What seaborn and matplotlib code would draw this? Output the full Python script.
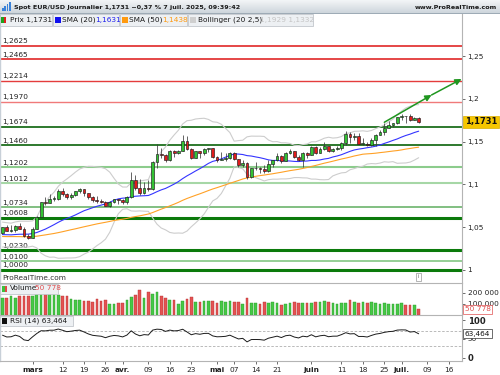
import numpy as np
import pandas as pd
import matplotlib
matplotlib.use("Agg")
import matplotlib.pyplot as plt
import matplotlib.transforms as mtransforms
from matplotlib.patches import Rectangle
import seaborn as sns

sns.set_style("white")
plt.rcParams['font.family'] = ['DejaVu Sans']

# ---------------- data ----------------
# closes before the visible window (for indicator warm-up)
prior_closes = [1.0497, 1.0510, 1.0512, 1.0587, 1.0567, 1.0554, 1.0527, 1.0502, 1.0467, 1.0502,
                1.0512, 1.0490, 1.0352, 1.0362, 1.0430, 1.0407, 1.0404, 1.0421, 1.0428, 1.0411,
                1.0355, 1.0265, 1.0308, 1.0390, 1.0344, 1.0318, 1.0300, 1.0244, 1.0244, 1.0309,
                1.0289, 1.0300, 1.0272, 1.0418, 1.0430, 1.0408, 1.0415, 1.0495, 1.0493, 1.0431,
                1.0420, 1.0391, 1.0362, 1.0343, 1.0378, 1.0402, 1.0380, 1.0329, 1.0306, 1.0361,
                1.0385, 1.0464, 1.0491, 1.0483, 1.0445, 1.0424]

start_date = '2025-02-20'
opens = [1.0427, 1.0500, 1.0459, 1.0465, 1.0513, 1.0485, 1.0398,
         1.0375, 1.0484, 1.0625, 1.0791, 1.0786, 1.0833, 1.0834, 1.0919, 1.0888, 1.0852,
         1.0882, 1.0923, 1.0944, 1.0902, 1.0853, 1.0816, 1.0802, 1.0791, 1.0753, 1.0799, 1.0827,
         1.0817, 1.0792, 1.0851, 1.1050, 1.0961, 1.0906, 1.0961, 1.0950, 1.1265, 1.1357,
         1.1347, 1.1284, 1.1396, 1.1369, 1.1396, 1.1513, 1.1421, 1.1312, 1.1389, 1.1363,
         1.1420, 1.1424, 1.1327, 1.1291, 1.1298, 1.1314, 1.1369, 1.1300, 1.1227, 1.1252,
         1.1089, 1.1188, 1.1191, 1.1186, 1.1161, 1.1240, 1.1283, 1.1330, 1.1280, 1.1363,
         1.1389, 1.1326, 1.1292, 1.1369, 1.1347, 1.1444, 1.1370, 1.1420, 1.1445, 1.1396,
         1.1420, 1.1422, 1.1487, 1.1585, 1.1550, 1.1562, 1.1478, 1.1479, 1.1462, 1.1523,
         1.1580, 1.1610, 1.1663, 1.1700, 1.1718, 1.1787, 1.1801, 1.1799, 1.1756, 1.1778]
highs = [1.0505, 1.0528, 1.0529, 1.0528, 1.0545, 1.0500, 1.0422,
         1.0499, 1.0630, 1.0796, 1.0854, 1.0889, 1.0870, 1.0947, 1.0956, 1.0901, 1.0906,
         1.0925, 1.0955, 1.0947, 1.0905, 1.0863, 1.0862, 1.0830, 1.0802, 1.0810, 1.0830, 1.0835,
         1.0834, 1.0862, 1.1145, 1.1107, 1.1065, 1.1030, 1.1050, 1.1275, 1.1474, 1.1425,
         1.1356, 1.1407, 1.1402, 1.1398, 1.1574, 1.1572, 1.1425, 1.1390, 1.1390, 1.1426,
         1.1425, 1.1424, 1.1339, 1.1380, 1.1363, 1.1380, 1.1381, 1.1300, 1.1288, 1.1265,
         1.1193, 1.1266, 1.1210, 1.1230, 1.1290, 1.1290, 1.1363, 1.1345, 1.1375, 1.1418,
         1.1390, 1.1345, 1.1383, 1.1385, 1.1455, 1.1455, 1.1435, 1.1495, 1.1455, 1.1432,
         1.1450, 1.1498, 1.1631, 1.1613, 1.1600, 1.1597, 1.1540, 1.1500, 1.1545, 1.1590,
         1.1641, 1.1720, 1.1744, 1.1720, 1.1790, 1.1830, 1.1805, 1.1830, 1.1790, 1.1785]
lows = [1.0422, 1.0455, 1.0450, 1.0448, 1.0474, 1.0384, 1.0359,
        1.0375, 1.0477, 1.0620, 1.0760, 1.0778, 1.0809, 1.0820, 1.0867, 1.0830, 1.0832,
        1.0868, 1.0899, 1.0868, 1.0833, 1.0797, 1.0787, 1.0785, 1.0745, 1.0732, 1.0780, 1.0777,
        1.0767, 1.0774, 1.0847, 1.0930, 1.0880, 1.0890, 1.0920, 1.0935, 1.1194, 1.1315,
        1.1264, 1.1272, 1.1320, 1.1355, 1.1386, 1.1400, 1.1298, 1.1307, 1.1315, 1.1346,
        1.1379, 1.1309, 1.1265, 1.1290, 1.1275, 1.1300, 1.1290, 1.1200, 1.1210, 1.1065,
        1.1073, 1.1173, 1.1130, 1.1130, 1.1150, 1.1200, 1.1270, 1.1250, 1.1275, 1.1352,
        1.1305, 1.1280, 1.1210, 1.1310, 1.1345, 1.1357, 1.1365, 1.1400, 1.1375, 1.1383,
        1.1400, 1.1400, 1.1467, 1.1490, 1.1525, 1.1470, 1.1462, 1.1446, 1.1456, 1.1453,
        1.1576, 1.1580, 1.1657, 1.1675, 1.1705, 1.1760, 1.1720, 1.1745, 1.1750, 1.1720]
closes = [1.0500, 1.0459, 1.0465, 1.0513, 1.0485, 1.0398, 1.0375,
          1.0484, 1.0625, 1.0791, 1.0786, 1.0833, 1.0834, 1.0919, 1.0888, 1.0852, 1.0882,
          1.0923, 1.0944, 1.0902, 1.0853, 1.0816, 1.0802, 1.0791, 1.0753, 1.0799, 1.0827, 1.0817,
          1.0792, 1.0851, 1.1050, 1.0961, 1.0906, 1.0961, 1.0950, 1.1265, 1.1357, 1.1347,
          1.1284, 1.1396, 1.1369, 1.1396, 1.1513, 1.1421, 1.1312, 1.1389, 1.1363, 1.1420,
          1.1424, 1.1327, 1.1291, 1.1298, 1.1314, 1.1369, 1.1300, 1.1227, 1.1252, 1.1089,
          1.1188, 1.1191, 1.1186, 1.1161, 1.1240, 1.1283, 1.1330, 1.1280, 1.1363, 1.1389,
          1.1326, 1.1292, 1.1369, 1.1347, 1.1444, 1.1370, 1.1420, 1.1445, 1.1396, 1.1420,
          1.1422, 1.1487, 1.1585, 1.1550, 1.1562, 1.1478, 1.1479, 1.1462, 1.1523, 1.1580,
          1.1610, 1.1663, 1.1700, 1.1718, 1.1787, 1.1801, 1.1799, 1.1756, 1.1778, 1.1731]
volumes = [154000, 154000, 173000, 154000, 167000, 167000, 167000, 173000, 187000, 187000,
           187000, 187000, 187000, 177000, 170000, 167000, 140000, 137000, 137000, 127000,
           127000, 120000, 144000, 127000, 137000, 100000, 94000, 110000, 107000, 134000,
           160000, 177000, 220000, 154000, 204000, 187000, 204000, 167000, 154000, 137000,
           137000, 100000, 127000, 144000, 160000, 120000, 120000, 127000, 127000, 127000,
           110000, 127000, 120000, 127000, 120000, 120000, 100000, 147000,
           107000, 110000, 100000, 120000, 107000, 117000, 107000, 87000, 100000, 107000,
           117000, 107000, 104000, 104000, 107000, 117000, 120000, 124000, 120000, 104000,
           94000, 104000, 104000, 130000, 120000, 104000, 114000, 107000, 120000, 104000,
           100000, 104000, 94000, 97000, 97000, 104000, 90000, 90000, 87000, 50778]

levels = [1.2625, 1.2465, 1.2214, 1.1970, 1.1674, 1.1460, 1.1202, 1.1012, 1.0734, 1.0608,
          1.0230, 1.0100, 1.0000]
level_labels = ['1,2625', '1,2465', '1,2214', '1,1970', '1,1674', '1,1460', '1,1202', '1,1012',
                '1,0734', '1,0608', '1,0230', '1,0100', '1,0000']
level_colors = ['#e02828', '#e02828', '#e43c3c', '#f07a7a', '#1c6e1c', '#1c6e1c', '#8ccc8c',
                '#a6d7a6', '#6cb46c', '#0b7a0b', '#0b7a0b', '#8ccc8c', '#0b7a0b']
level_widths = [1.2, 1.2, 1.0, 1.0, 1.3, 1.3, 1.5, 1.5, 1.2, 2.2, 2.2, 1.3, 2.2]

price_ticks = [1.0, 1.05, 1.1, 1.15, 1.2, 1.25]
price_tick_labels = ['1', '1,05', '1,1', '1,15', '1,2', '1,25']

tick_dates = ['2025-03-03', '2025-03-12', '2025-03-19', '2025-03-26', '2025-04-01', '2025-04-09',
              '2025-04-16', '2025-04-23', '2025-05-01', '2025-05-07', '2025-05-14', '2025-05-21',
              '2025-06-02', '2025-06-11', '2025-06-18', '2025-06-25', '2025-07-01', '2025-07-09',
              '2025-07-16']
tick_labels = ['mars', '12', '19', '26', 'avr.', '09', '16', '23', 'mai', '07', '14', '21',
               'juin', '11', '18', '25', 'juil.', '09', '16']
month_labels = {'mars', 'avr.', 'mai', 'juin', 'juil.'}

arrow_dates = ['2025-06-25', '2025-07-10', '2025-07-21']
arrow_prices = [1.1728, 1.2047, 1.2234]

# ---------------- indicators ----------------
all_days = pd.bdate_range(start_date, '2025-08-15')
pos_of = {d: i for i, d in enumerate(all_days)}
n = len(closes)
x = np.arange(n)

full = pd.Series(prior_closes + closes)
npre = len(prior_closes)
sma20 = full.rolling(20).mean().values[npre:]
sma50 = full.rolling(50).mean().values[npre:]
sd20 = full.rolling(20).std(ddof=0).values[npre:]
bb_up = sma20 + 2.5 * sd20
bb_lo = sma20 - 2.5 * sd20
delta = full.diff()
gain = delta.clip(lower=0).ewm(alpha=1 / 14, adjust=False).mean()
loss = (-delta.clip(upper=0)).ewm(alpha=1 / 14, adjust=False).mean()
rsi = (100 - 100 / (1 + gain / loss)).values[npre:]

# ---------------- layout ----------------
W, H = 500, 375
fig = plt.figure(figsize=(5, 3.75), dpi=100)
fig.patch.set_facecolor('white')


def fx(px):
    return px / W


def fy(py):
    return 1 - py / H


def add_ax(x0, y0, x1, y1, **kw):
    return fig.add_axes([fx(x0), fy(y1), (x1 - x0) / W, (y1 - y0) / H], **kw)


def frect(x0, y0, x1, y1, fc, ec='none', lw=0.6, z=1):
    r = Rectangle((fx(x0), fy(y1)), (x1 - x0) / W, (y1 - y0) / H, transform=fig.transFigure,
                  facecolor=fc, edgecolor=ec, linewidth=lw, zorder=z)
    fig.patches.append(r)


FS = 5.3
XL = (-0.58, 107.1)

ax_main = add_ax(0, 14, 462, 283)
ax_vol = add_ax(0, 283, 462, 315)
ax_rsi = add_ax(0, 315, 462, 361)

for a in (ax_main, ax_vol, ax_rsi):
    a.set_xlim(*XL)
    a.set_facecolor('white')
    for s in a.spines.values():
        s.set_visible(False)
    a.spines['right'].set_visible(True)
    a.spines['right'].set_color('#b4b4b4')
    a.spines['right'].set_linewidth(0.8)
    a.spines['left'].set_visible(True)
    a.spines['left'].set_color('#c8d0d8')
    a.spines['left'].set_linewidth(1.0)
    a.yaxis.tick_right()
    a.tick_params(axis='y', length=2.5, width=0.6, color='#555555', labelsize=FS,
                  labelcolor='#222222', pad=1.5)
    a.tick_params(axis='x', bottom=False, labelbottom=False)

# ---------------- main price panel ----------------
ax_main.set_ylim(1 - 13 / 855, 1 + 256 / 855)
for lv, lc, lw, lab in zip(levels, level_colors, level_widths, level_labels):
    ax_main.axhline(lv, color=lc, lw=lw, zorder=1)
    ax_main.text(0.004, lv + 1.6 / 855, lab, transform=mtransforms.blended_transform_factory(
        ax_main.transAxes, ax_main.transData), fontsize=FS, color='#222222', va='bottom',
        ha='left', zorder=2)

sns.lineplot(x=x, y=bb_up, ax=ax_main, color='#cdcdcd', lw=0.8, zorder=2)
sns.lineplot(x=x, y=bb_lo, ax=ax_main, color='#cdcdcd', lw=0.8, zorder=2)
sns.lineplot(x=x, y=sma50, ax=ax_main, color='#ffa126', lw=0.8, zorder=3)
sns.lineplot(x=x, y=sma20, ax=ax_main, color='#3434ff', lw=0.8, zorder=3)

o = np.array(opens)
c = np.array(closes)
h = np.array(highs)
lo = np.array(lows)
up = c >= o
ax_main.vlines(x, lo, h, color='#3a3a3a', lw=0.55, zorder=4)
body_h = np.maximum(np.abs(c - o), 0.0005)
ax_main.bar(x, body_h, bottom=np.minimum(o, c), width=0.66,
            color=np.where(up, '#33c233', '#e01c1c'), edgecolor='#1d1d1d', linewidth=0.45,
            zorder=5)

apts = [(pos_of[pd.Timestamp(d)], p) for d, p in zip(arrow_dates, arrow_prices)]
for p0, p1 in zip(apts[:-1], apts[1:]):
    ax_main.annotate('', xy=p1, xytext=p0, annotation_clip=False,
                     arrowprops=dict(arrowstyle='-|>', color='#1f961f', lw=1.1,
                                     mutation_scale=9, shrinkA=0, shrinkB=0), zorder=6)

ax_main.set_yticks(price_ticks)
ax_main.set_yticklabels(price_tick_labels)
ax_main.set_xlabel('')
ax_main.set_ylabel('')
ax_main.text(1.006, closes[-1], '1,1731', transform=mtransforms.blended_transform_factory(
    ax_main.transAxes, ax_main.transData), fontsize=FS + 0.7, fontweight='bold', color='#111111',
    va='center', ha='left', clip_on=False, zorder=10,
    bbox=dict(boxstyle='square,pad=0.2', fc='#f6c600', ec='#d9ad00', lw=0.5))

# ---------------- volume panel ----------------
ax_vol.set_ylim(0, 285000)
ax_vol.bar(x, volumes, width=0.62, color=np.where(up, '#46c846', '#e35353'),
           edgecolor=np.where(up, '#2a9a2a', '#b83030'), linewidth=0.3, zorder=3)
ax_vol.set_yticks([100000, 200000])
ax_vol.set_yticklabels(['100 000', '200 000'])
ax_vol.spines['top'].set_visible(True)
ax_vol.spines['top'].set_color('#b4b4b4')
ax_vol.spines['top'].set_linewidth(0.8)
ax_vol.text(1.006, volumes[-1], '50 778', transform=mtransforms.blended_transform_factory(
    ax_vol.transAxes, ax_vol.transData), fontsize=FS, color='#e05050', va='center', ha='left',
    clip_on=False, zorder=10, bbox=dict(boxstyle='square,pad=0.2', fc='white', ec='#e05050', lw=0.5))

# ---------------- RSI panel ----------------
ax_rsi.set_ylim(-8.75, 113.3)
for lv in (70, 30):
    ax_rsi.axhline(lv, color='#b0b0b0', lw=0.6, ls=(0, (3, 2)), zorder=1)
sns.lineplot(x=x, y=rsi, ax=ax_rsi, color='#1a1a1a', lw=0.7, zorder=3)
ax_rsi.set_xlabel('')
ax_rsi.set_ylabel('')
ax_rsi.set_yticks([0, 50, 100])
ax_rsi.set_yticklabels(['0', '50', '100'])
for t in ax_rsi.get_yticklabels():
    if t.get_text() in ('0', '100'):
        t.set_fontweight('bold')
        t.set_fontsize(FS + 0.8)
ax_rsi.spines['top'].set_visible(True)
ax_rsi.spines['top'].set_color('#b4b4b4')
ax_rsi.spines['top'].set_linewidth(0.8)
ax_rsi.spines['bottom'].set_visible(True)
ax_rsi.spines['bottom'].set_color('#b4b4b4')
ax_rsi.spines['bottom'].set_linewidth(0.8)
ax_rsi.text(1.006, rsi[-1], '63,464', transform=mtransforms.blended_transform_factory(
    ax_rsi.transAxes, ax_rsi.transData), fontsize=FS, color='#111111', va='center', ha='left',
    clip_on=False, zorder=10, bbox=dict(boxstyle='square,pad=0.2', fc='white', ec='#333333', lw=0.5))

tick_pos = [pos_of[pd.Timestamp(d)] for d in tick_dates]
ax_rsi.set_xticks(tick_pos)
ax_rsi.set_xticklabels(tick_labels)
ax_rsi.tick_params(axis='x', bottom=True, labelbottom=True, length=2.5, width=0.6,
                   color='#555555', labelsize=FS, labelcolor='#222222', pad=1.5)
for t in ax_rsi.get_xticklabels():
    if t.get_text() in month_labels:
        t.set_fontweight('bold')

# ---------------- header & legends ----------------
ax_head = add_ax(0, 0, 500, 14)
grad = np.linspace(0, 1, 50).reshape(-1, 1)
ax_head.imshow(grad, aspect='auto', cmap=matplotlib.colors.LinearSegmentedColormap.from_list(
    'hd', ['#f3f5f7', '#cbd3da']), extent=(0, 1, 0, 1))
ax_head.set_axis_off()
frect(0, 13.3, 500, 14, '#9eabb6', z=2)
# small bar icon
for i, hh in enumerate([3, 5, 7, 9]):
    frect(2 + i * 2.4, 11 - hh, 3.6 + i * 2.4, 11, '#3b82d8', z=3)
fig.text(fx(14), fy(7.2), 'Spot EUR/USD Journalier 1,1731 \u22120,37 % 7 juil. 2025, 09:39:42',
         fontsize=4.55, fontweight='bold', color='#1a1a1a', va='center', ha='left')
fig.text(fx(497), fy(7.2), 'www.ProRealTime.com', fontsize=4.55, fontweight='bold',
         color='#1a1a1a', va='center', ha='right')

LB = '#edf0f3'
LE = '#c2c7cc'
frect(0, 14, 52, 26, LB, LE, z=4)
frect(53, 14, 119, 26, LB, LE, z=4)
frect(120, 14, 187, 26, LB, LE, z=4)
frect(188, 14, 313, 26, LB, LE, z=4)
frect(1, 16.5, 3.5, 23, '#1fa31f', z=5)
frect(3.5, 16.5, 6, 23, '#e02020', z=5)
frect(55, 16.5, 60.5, 23, '#1010ee', z=5)
frect(122, 16.5, 127.5, 23, '#ff9a10', z=5)
frect(190, 16.5, 195.5, 23, '#cfcfcf', z=5)
ty = fy(20)
fig.text(fx(10), ty, 'Prix 1,1731', fontsize=FS, color='#1a1a1a', va='center', zorder=6)
fig.text(fx(62), ty, 'SMA (20)', fontsize=FS, color='#1a1a1a', va='center', zorder=6)
fig.text(fx(95), ty, '1,1631', fontsize=FS, color='#2020ee', va='center', zorder=6)
fig.text(fx(129), ty, 'SMA (50)', fontsize=FS, color='#1a1a1a', va='center', zorder=6)
fig.text(fx(162), ty, '1,1438', fontsize=FS, color='#ff9a10', va='center', zorder=6)
fig.text(fx(198), ty, 'Bollinger (20 2,5)', fontsize=FS, color='#1a1a1a', va='center', zorder=6)
fig.text(fx(260), ty, '1,1929 1,1332', fontsize=FS, color='#c4c4c4', va='center', zorder=6)

fig.text(fx(2), fy(277.5), 'ProRealTime.com', fontsize=FS, color='#333333', va='center', zorder=6)
fig.text(fx(418.5), fy(277), 'i', fontsize=3.8, color='#666666', va='center', ha='center', zorder=6,
         bbox=dict(boxstyle='square,pad=0.25', fc='white', ec='#999999', lw=0.5))

frect(0, 283.5, 58, 293.5, LB, LE, z=4)
frect(2, 285.5, 4.5, 291.5, '#3cc03c', z=5)
frect(4.5, 285.5, 7, 291.5, '#e04848', z=5)
fig.text(fx(10), fy(288.5), 'Volume', fontsize=FS, color='#1a1a1a', va='center', zorder=6)
fig.text(fx(35), fy(288.5), '50 778', fontsize=FS, color='#e05050', va='center', zorder=6)

frect(0, 315.5, 73, 326, LB, LE, z=4)
frect(2, 318, 7, 324, '#111111', z=5)
fig.text(fx(10), fy(321), 'RSI (14) 63,464', fontsize=FS, color='#1a1a1a', va='center', zorder=6)

fig.savefig('out.png', dpi=100, facecolor='white')
